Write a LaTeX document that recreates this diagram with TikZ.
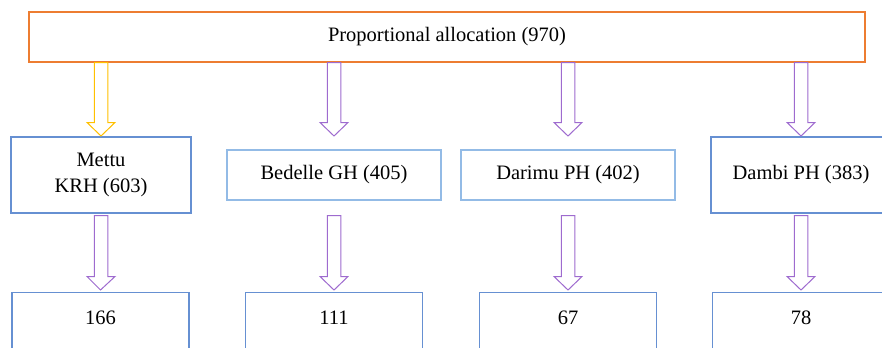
\documentclass[tikz,border=0pt]{standalone}
\usepackage{fontspec}
\setmainfont{Liberation Serif}
\usetikzlibrary{calc}
\definecolor{orangeC}{HTML}{ED7D31}
\definecolor{yellowC}{HTML}{FFC000}
\definecolor{purpleC}{HTML}{9E6BCF}
\definecolor{blueA}{HTML}{6690D2}
\definecolor{blueB}{HTML}{93BBE6}
\newcommand\blockarr[3]{%
  \draw[#1, line width=1bp, line join=miter, fill=white] let \p1=(#2), \p2=(#3) in
  (\x1-6.75bp,\y1) -- (\x1-6.75bp,\y2+13.5bp) -- (\x1-14bp,\y2+13.5bp) -- (\x2,\y2)
  -- (\x1+14bp,\y2+13.5bp) -- (\x1+6.75bp,\y2+13.5bp) -- (\x1+6.75bp,\y1) -- cycle;}
\begin{document}
\begin{tikzpicture}[x=1bp,y=-1bp,
  every node/.style={font=\fontsize{20.5bp}{26bp}\selectfont, inner sep=0pt, align=center},
  topbox/.style={draw=orangeC, line width=1.1bp, minimum width=836bp, minimum height=50bp},
  tallbox/.style={draw=blueA, line width=1.1bp, minimum width=180bp, minimum height=76bp},
  flatbox/.style={draw=blueB, line width=1.1bp, minimum width=214bp, minimum height=50bp},
  resbox/.style={draw=blueA, line width=1.1bp, minimum width=177bp, anchor=north,
    text height=32bp, text depth=50bp},
  yarr/.style={yellowC},
  parr/.style={purpleC}]
\useasboundingbox (0,0) rectangle (882,347);
\node[topbox] (top) at (447,37) {Proportional allocation (970)};
\node[tallbox] (m) at (101,175) {Mettu\\KRH (603)};
\node[flatbox] (b) at (334,175) {Bedelle GH (405)};
\node[flatbox] (d) at (568,175) {Darimu PH (402)};
\node[tallbox] (k) at (801,175) {Dambi PH (383)};
\node[resbox] (m2) at (100.5,292) {166};
\node[resbox] (b2) at (334,292) {111};
\node[resbox] (d2) at (568,292) {67};
\node[resbox] (k2) at (801,292) {78};
\coordinate (tiprow) at (0,136);
\coordinate (lowtop) at (0,215.5);
\coordinate (lowtip) at (0,290);
\blockarr{yarr}{top.south -| m.north}{m.north |- tiprow}
\blockarr{parr}{top.south -| b.north}{b.north |- tiprow}
\blockarr{parr}{top.south -| d.north}{d.north |- tiprow}
\blockarr{parr}{top.south -| k.north}{k.north |- tiprow}
\blockarr{parr}{m.south |- lowtop}{m2.north |- lowtip}
\blockarr{parr}{b.south |- lowtop}{b2.north |- lowtip}
\blockarr{parr}{d.south |- lowtop}{d2.north |- lowtip}
\blockarr{parr}{k.south |- lowtop}{k2.north |- lowtip}
\end{tikzpicture}
\end{document}
